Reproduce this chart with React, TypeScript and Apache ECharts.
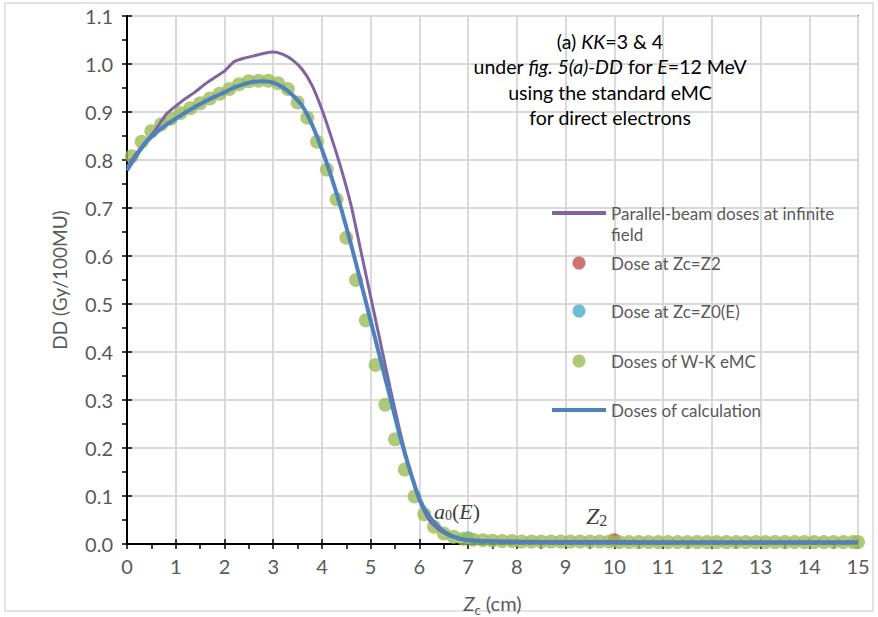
import React, { useEffect, useRef } from "react";
import * as echarts from "echarts";

// ---- data ----
const parallelX = [0, 0.2, 0.4, 0.6, 0.8, 1.0, 1.2, 1.4, 1.6, 1.8, 2.0, 2.2, 2.4, 2.6, 2.8, 3.0, 3.2, 3.4, 3.6, 3.8, 4.0, 4.2, 4.4, 4.6, 4.8, 5.0, 5.2, 5.4, 5.6, 5.8, 6.0, 6.2, 6.4, 6.6, 6.8, 7.0, 7.5, 8, 9, 10, 11, 12, 13, 14, 15];
const parallelDose = [0.785, 0.815, 0.84, 0.865, 0.895, 0.912, 0.928, 0.942, 0.958, 0.972, 0.985, 1.005, 1.012, 1.017, 1.022, 1.025, 1.02, 1.008, 0.988, 0.955, 0.905, 0.845, 0.78, 0.705, 0.61, 0.515, 0.42, 0.325, 0.235, 0.155, 0.09, 0.05, 0.03, 0.018, 0.012, 0.009, 0.007, 0.006, 0.005, 0.005, 0.004, 0.004, 0.004, 0.004, 0.004];

const calcX = [0, 0.2, 0.4, 0.6, 0.8, 1.0, 1.2, 1.4, 1.6, 1.8, 2.0, 2.2, 2.4, 2.6, 2.8, 3.0, 3.2, 3.4, 3.6, 3.8, 4.0, 4.2, 4.4, 4.6, 4.8, 5.0, 5.2, 5.4, 5.6, 5.8, 6.0, 6.2, 6.4, 6.6, 6.8, 7.0, 7.5, 8, 9, 10, 11, 12, 13, 14, 15];
const calcDose = [0.778, 0.81, 0.838, 0.857, 0.873, 0.886, 0.899, 0.911, 0.922, 0.932, 0.941, 0.951, 0.958, 0.963, 0.964, 0.961, 0.951, 0.935, 0.912, 0.873, 0.822, 0.763, 0.697, 0.623, 0.545, 0.465, 0.385, 0.305, 0.225, 0.155, 0.095, 0.058, 0.035, 0.02, 0.012, 0.008, 0.005, 0.004, 0.003, 0.003, 0.003, 0.003, 0.003, 0.003, 0.003];

const wkX = [0.1, 0.3, 0.5, 0.7, 0.9, 1.1, 1.3, 1.5, 1.7, 1.9, 2.1, 2.3, 2.5, 2.7, 2.9, 3.1, 3.3, 3.5, 3.7, 3.9, 4.1, 4.3, 4.5, 4.7, 4.9, 5.1, 5.3, 5.5, 5.7, 5.9, 6.1, 6.3, 6.5, 6.7, 6.9, 7.1, 7.3, 7.5, 7.7, 7.9, 8.1, 8.3, 8.5, 8.7, 8.9, 9.1, 9.3, 9.5, 9.7, 9.9, 10.1, 10.3, 10.5, 10.7, 10.9, 11.1, 11.3, 11.5, 11.7, 11.9, 12.1, 12.3, 12.5, 12.7, 12.9, 13.1, 13.3, 13.5, 13.7, 13.9, 14.1, 14.3, 14.5, 14.7, 14.9, 15.0];
const wkDose = [0.808, 0.838, 0.86, 0.874, 0.886, 0.898, 0.908, 0.918, 0.928, 0.938, 0.948, 0.958, 0.964, 0.965, 0.965, 0.96, 0.948, 0.92, 0.888, 0.838, 0.78, 0.718, 0.638, 0.55, 0.466, 0.373, 0.29, 0.218, 0.155, 0.099, 0.062, 0.036, 0.022, 0.015, 0.011, 0.009, 0.008, 0.007, 0.006, 0.006, 0.005, 0.005, 0.005, 0.005, 0.005, 0.005, 0.005, 0.005, 0.005, 0.005, 0.004, 0.004, 0.004, 0.004, 0.004, 0.004, 0.004, 0.004, 0.004, 0.004, 0.004, 0.004, 0.004, 0.004, 0.004, 0.004, 0.004, 0.004, 0.004, 0.004, 0.004, 0.004, 0.004, 0.004, 0.004, 0.004];

const z2X = [10];
const z2Dose = [0.009];
const z0X = [7];
const z0Dose = [0.013];

const seriesNames = [
  "Parallel-beam doses at infinite field",
  "Dose at Zc=Z2",
  "Dose at Zc=Z0(E)",
  "Doses of W-K eMC",
  "Doses of calculation",
];

const zip = (xs: number[], ys: number[]) => xs.map((x, i) => [x, ys[i]]);

const FONT = 'Lato, "Open Sans", sans-serif';
const SERIF = '"Liberation Serif", serif';
const TXT = "#595959";
const GRID = "#d9d9d9";

const legendText = { color: TXT, fontSize: 17, fontFamily: FONT, lineHeight: 21 };

const lineLegend = {
  orient: "vertical" as const,
  left: 552,
  padding: 0,
  itemWidth: 54,
  itemHeight: 4,
  selectedMode: false,
  textStyle: legendText,
};
const dotLegend = {
  orient: "vertical" as const,
  left: 572.5,
  padding: 0,
  itemWidth: 54,
  itemHeight: 13,
  selectedMode: false,
  textStyle: legendText,
};

const option: any = {
  animation: false,
  backgroundColor: "#fff",
  grid: {
    left: 127,
    right: 20,
    top: 16,
    bottom: 73,
    show: true,
    borderColor: "#000",
    borderWidth: 1.5,
    containLabel: false,
    outerBoundsMode: "none",
  },
  legend: [
    {
      ...lineLegend,
      top: 181.5,
      data: [{ name: seriesNames[0], icon: "rect" }],
      formatter: () => " \nParallel-beam doses at infinite\nfield",
    },
    { ...dotLegend, top: 252.5, data: [{ name: seriesNames[1], icon: "circle" }] },
    { ...dotLegend, top: 300.5, data: [{ name: seriesNames[2], icon: "circle" }] },
    { ...dotLegend, top: 350.5, data: [{ name: seriesNames[3], icon: "circle" }] },
    { ...lineLegend, top: 399.5, data: [{ name: seriesNames[4], icon: "rect" }] },
  ],
  xAxis: [
    {
      type: "value",
      min: 0,
      max: 15,
      interval: 1,
      name: "{i|Z}{s|c} (cm)",
      nameLocation: "middle",
      nameGap: 46,
      nameTextStyle: {
        color: TXT,
        fontSize: 20,
        fontFamily: FONT,
        rich: {
          i: { fontStyle: "italic", fontSize: 20, fontFamily: FONT, color: TXT, lineHeight: 26 },
          s: { fontSize: 13, fontFamily: FONT, color: TXT, verticalAlign: "bottom", lineHeight: 24 },
        },
      },
      axisLine: { show: true, onZero: false, lineStyle: { color: "#000", width: 2 } },
      axisTick: { show: true, length: 5, lineStyle: { color: "#000", width: 1.5 } },
      minorTick: { show: true, splitNumber: 2, length: 5, lineStyle: { color: "#000", width: 1.5 } },
      axisLabel: { color: TXT, fontSize: 20, fontFamily: FONT, margin: 12 },
      splitLine: { show: true, lineStyle: { color: GRID, width: 2 } },
    },
    {
      type: "value",
      min: 0,
      max: 15,
      interval: 1,
      position: "bottom",
      axisLine: { show: false },
      axisTick: { show: true, inside: true, length: 5, lineStyle: { color: "#000", width: 1.5 } },
      axisLabel: { show: false },
      splitLine: { show: false },
    },
  ],
  yAxis: [
    {
      type: "value",
      min: 0,
      max: 1.1,
      interval: 0.1,
      name: "DD (Gy/100MU)",
      nameLocation: "middle",
      nameGap: 58,
      nameTextStyle: { color: TXT, fontSize: 19, fontFamily: FONT },
      axisLine: { show: true, onZero: false, lineStyle: { color: "#000", width: 2 } },
      axisTick: { show: true, length: 5, lineStyle: { color: "#000", width: 1.5 } },
      minorTick: { show: true, splitNumber: 2, length: 5, lineStyle: { color: "#000", width: 1.5 } },
      axisLabel: { color: TXT, fontSize: 20, fontFamily: FONT, margin: 14, formatter: (v: number) => v.toFixed(1) },
      splitLine: { show: true, lineStyle: { color: GRID, width: 2 } },
    },
    {
      type: "value",
      min: 0,
      max: 1.1,
      interval: 0.1,
      position: "left",
      axisLine: { show: false },
      axisTick: { show: true, inside: true, length: 5, lineStyle: { color: "#000", width: 1.5 } },
      axisLabel: { show: false },
      splitLine: { show: false },
    },
  ],
  series: [
    {
      name: seriesNames[0],
      type: "line",
      data: zip(parallelX, parallelDose),
      symbol: "none",
      smooth: 0.2,
      color: "#8064A2",
      lineStyle: { color: "#8064A2", width: 3 },
    },
    {
      name: seriesNames[1],
      type: "scatter",
      data: zip(z2X, z2Dose),
      symbol: "circle",
      symbolSize: 13,
      color: "#C0504D",
      itemStyle: { color: "#C0504D" },
    },
    {
      name: seriesNames[2],
      type: "scatter",
      data: zip(z0X, z0Dose),
      symbol: "circle",
      symbolSize: 13,
      color: "#4BACC6",
      itemStyle: { color: "#4BACC6" },
    },
    {
      name: seriesNames[3],
      type: "scatter",
      data: zip(wkX, wkDose),
      symbol: "circle",
      symbolSize: 14,
      color: "#9BBB59",
      itemStyle: { color: "#9BBB59" },
    },
    {
      name: seriesNames[4],
      type: "line",
      data: zip(calcX, calcDose),
      symbol: "none",
      smooth: 0.2,
      color: "#4F81BD",
      lineStyle: { color: "#4F81BD", width: 4 },
    },
  ],
  graphic: [
    {
      type: "rect",
      z: -10,
      silent: true,
      shape: { x: 5, y: 3, width: 868, height: 608 },
      style: { fill: "none", stroke: "#d9d9d9", lineWidth: 1.5 },
    },
    {
      type: "group",
      z: 100,
      children: [
        {
          type: "text",
          z: 100,
          x: 610,
          y: 41,
          style: {
            text: "(a) {i|KK}=3 & 4",
            align: "center",
            verticalAlign: "middle",
            fontSize: 19.5,
            fontFamily: FONT,
            fill: "#000",
            rich: { i: { fontStyle: "italic", fontSize: 19.5, fontFamily: FONT, fill: "#000" } },
          },
        },
        {
          type: "text",
          z: 100,
          x: 610,
          y: 66,
          style: {
            text: "under {i|fig. 5(a)-DD} for {i|E}=12 MeV",
            align: "center",
            verticalAlign: "middle",
            fontSize: 19.5,
            fontFamily: FONT,
            fill: "#000",
            rich: { i: { fontStyle: "italic", fontSize: 19.5, fontFamily: FONT, fill: "#000" } },
          },
        },
        {
          type: "text",
          z: 100,
          x: 610,
          y: 92,
          style: { text: "using the standard eMC", align: "center", verticalAlign: "middle", fontSize: 19.5, fontFamily: FONT, fill: "#000" },
        },
        {
          type: "text",
          z: 100,
          x: 610,
          y: 117,
          style: { text: "for direct electrons", align: "center", verticalAlign: "middle", fontSize: 19.5, fontFamily: FONT, fill: "#000" },
        },
        {
          type: "text",
          z: 100,
          x: 434,
          y: 509,
          style: {
            text: "{a|a}{s|0}{p|(}{a|E}{p|)}",
            verticalAlign: "middle",
            fontSize: 22,
            fontFamily: SERIF,
            fill: "#404040",
            rich: {
              a: { fontStyle: "italic", fontSize: 22, fontFamily: SERIF, fill: "#404040", lineHeight: 26, verticalAlign: "bottom" },
              s: { fontSize: 14, fontFamily: SERIF, fill: "#404040", lineHeight: 20, verticalAlign: "bottom" },
              p: { fontSize: 22, fontFamily: SERIF, fill: "#404040", lineHeight: 26, verticalAlign: "bottom" },
            },
          },
        },
        {
          type: "text",
          z: 100,
          x: 586,
          y: 515,
          style: {
            text: "{z|Z}{s|2}",
            verticalAlign: "middle",
            fontSize: 24,
            fontFamily: SERIF,
            fill: "#404040",
            rich: {
              z: { fontStyle: "italic", fontSize: 24, fontFamily: SERIF, fill: "#404040", lineHeight: 26, verticalAlign: "bottom" },
              s: { fontSize: 16, fontFamily: SERIF, fill: "#404040", lineHeight: 18, verticalAlign: "bottom" },
            },
          },
        },
      ],
    },
  ],
};

export default function App() {
  const ref = useRef<HTMLDivElement>(null);
  useEffect(() => {
    const chart = echarts.init(ref.current!, null, { renderer: "svg" });
    chart.setOption(option);
    return () => chart.dispose();
  }, []);
  return (
    <div
      ref={ref}
      style={{ position: "absolute", left: 0, top: 0, width: 878, height: 617, background: "#fff" }}
    />
  );
}
